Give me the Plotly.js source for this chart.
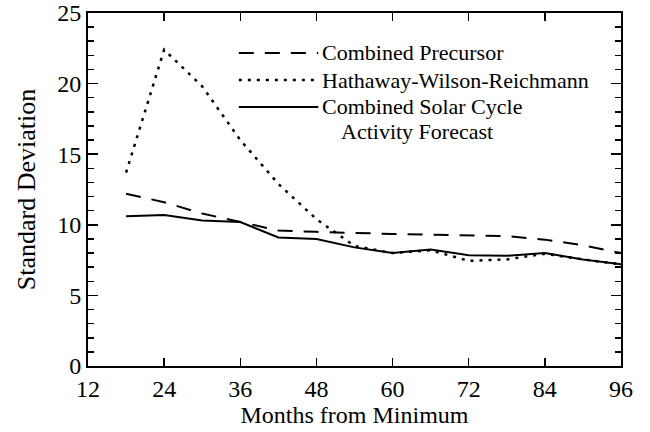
<!DOCTYPE html>
<html>
<head>
<meta charset="utf-8">
<script src="https://cdn.plot.ly/plotly-3.0.1.min.js"></script>
<style>html,body{margin:0;padding:0;background:#fff;}#chart{width:650px;height:432px;}</style>
</head>
<body>
<div id="chart"></div>
<script>
const months = [18, 24, 30, 36, 42, 48, 54, 60, 66, 72, 78, 84, 90, 96];
const combinedPrecursor = [12.2, 11.6, 10.8, 10.2, 9.6, 9.5, 9.4, 9.35, 9.3, 9.25, 9.2, 8.95, 8.55, 8.0];
const hathawayWilsonReichmann = [13.7, 22.4, 19.8, 16.0, 12.9, 10.4, 8.5, 8.0, 8.2, 7.45, 7.55, 7.95, 7.55, 7.2];
const combinedForecast = [10.6, 10.7, 10.3, 10.2, 9.1, 9.0, 8.4, 8.0, 8.25, 7.85, 7.8, 8.0, 7.55, 7.2];
const xTicks = [12, 24, 36, 48, 60, 72, 84, 96];
const yTicks = [0, 5, 10, 15, 20, 25];
const legendLabels = ["Combined Precursor", "Hathaway-Wilson-Reichmann", "Combined Solar Cycle", "Activity Forecast"];

const FONT = "Liberation Serif, Times New Roman, serif";
const LFONT = {family: FONT, size: 22, color: "#000"};

const traces = [
  {x: months, y: combinedPrecursor, mode: "lines", name: legendLabels[0],
   line: {color: "#000", width: 2, dash: "15px,11px"}},
  {x: months, y: hathawayWilsonReichmann, mode: "lines", name: legendLabels[1],
   line: {color: "#000", width: 2.5, dash: "3px,6px"}},
  {x: months, y: combinedForecast, mode: "lines", name: legendLabels[2] + " " + legendLabels[3],
   line: {color: "#000", width: 2}}
];

const legendY = [0.887, 0.810, 0.734, 0.663];
const sx0 = 0.283, sx1 = 0.432, tx = 0.435;
const shapes = [
  {type: "line", xref: "paper", yref: "paper", x0: sx0, x1: sx1, y0: legendY[0], y1: legendY[0],
   line: {color: "#000", width: 2, dash: "15px,11px"}},
  {type: "line", xref: "paper", yref: "paper", x0: sx0, x1: sx1, y0: legendY[1], y1: legendY[1],
   line: {color: "#000", width: 2.5, dash: "3px,6px"}},
  {type: "line", xref: "paper", yref: "paper", x0: sx0, x1: sx1, y0: legendY[2], y1: legendY[2],
   line: {color: "#000", width: 2}}
];
const annotations = [
  {xref: "paper", yref: "paper", x: tx, y: legendY[0], xanchor: "left", yanchor: "middle",
   text: legendLabels[0], showarrow: false, font: LFONT},
  {xref: "paper", yref: "paper", x: tx, y: legendY[1], xanchor: "left", yanchor: "middle",
   text: legendLabels[1], showarrow: false, font: LFONT},
  {xref: "paper", yref: "paper", x: tx, y: legendY[2], xanchor: "left", yanchor: "middle",
   text: legendLabels[2], showarrow: false, font: LFONT},
  {xref: "paper", yref: "paper", x: 0.617, y: legendY[3], xanchor: "center", yanchor: "middle",
   text: legendLabels[3], showarrow: false, font: LFONT}
];

const layout = {
  width: 650, height: 432,
  margin: {l: 88, r: 29, t: 13, b: 66},
  paper_bgcolor: "#fff", plot_bgcolor: "#fff",
  showlegend: false,
  font: {family: FONT, color: "#000", size: 24},
  xaxis: {
    range: [12, 96], tickvals: xTicks, ticktext: xTicks.map(String),
    ticks: "inside", ticklen: 8, tickwidth: 1.5, tickcolor: "#000",
    showline: true, linecolor: "#000", linewidth: 2, mirror: "ticks",
    showgrid: false, zeroline: false,
    tickfont: {family: FONT, size: 24, color: "#000"},
    title: {text: "Months from Minimum", font: {family: FONT, size: 24, color: "#000"}, standoff: 4}
  },
  yaxis: {
    range: [0, 25], tickvals: yTicks, ticktext: yTicks.map(String),
    ticks: "inside", ticklen: 10, tickwidth: 1.5, tickcolor: "#000",
    minor: {dtick: 1, ticks: "inside", ticklen: 6, tickwidth: 1.5, tickcolor: "#000", showgrid: false},
    showline: true, linecolor: "#000", linewidth: 2, mirror: "ticks",
    showgrid: false, zeroline: false,
    tickfont: {family: FONT, size: 24, color: "#000"},
    title: {text: "Standard Deviation", font: {family: FONT, size: 26, color: "#000"}, standoff: 14}
  },
  shapes: shapes,
  annotations: annotations
};

Plotly.newPlot("chart", traces, layout, {displayModeBar: false, staticPlot: true});
</script>
</body>
</html>
